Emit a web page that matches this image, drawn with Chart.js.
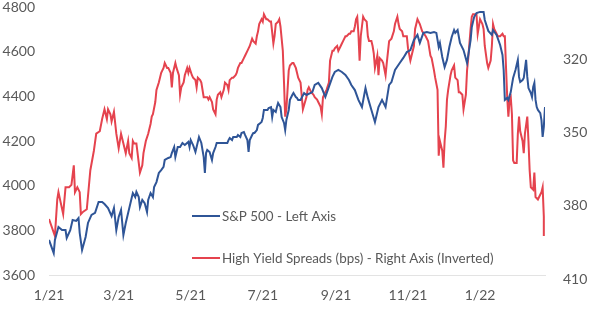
<!DOCTYPE html>
<html>
<head>
<meta charset="utf-8">
<script src="https://cdn.jsdelivr.net/npm/chart.js@4/dist/chart.umd.min.js"></script>
<style>
  html, body { margin: 0; padding: 0; background: #fff; }
  #wrap { width: 599px; height: 329px; }
</style>
</head>
<body>
<div id="wrap"><canvas id="spreadChart" width="599" height="329"></canvas></div>
<script>
// days counted from 1 Jan 2021
const spxDays = [
  0,4,5,8,11,14,15,18,20,23,
  25,26,28,31,33,36,39,42,45,47,
  50,53,55,57,59,61,63,65,67,69,
  70,71,73,74,76,77,79,81,83,84,
  86,88,89,91,93,95,97,98,101,103,
  104,106,107,109,111,113,115,118,119,120,
  122,124,125,127,129,131,132,133,134,136,
  138,139,141,142,145,148,151,152,153,155,
  156,159,160,162,163,165,166,168,169,170,
  172,173,174,176,177,179,180,181,182,184,
  185,186,188,189,190,192,193,194,196,197,
  199,200,201,203,204,206,207,209,210,211,
  213,216,218,223,225,228,231,234,237,240,
  242,245,248,251,254,256,259,262,265,268,
  270,273,275,276,279,282,285,288,290,293,
  297,300,303,306,309,312,314,317,320,323,
  326,328,330,331,333,335,337,339,341,343,
  344,346,348,351,354,357,358,360,362,365,
  368,369,372,375,376,379,382,384,385,386,
  388,389,391,392,393,395,397,398,399,401,
  402,404,405,406,408,409,410,411,412,413,
  414,416,417,418,419,420
];
const spxValues = [
  3757,3698,3757,3815,3801,3801,3766,3801,3846,3842,
  3855,3788,3712,3770,3833,3869,3878,3927,3927,3918,
  3900,3864,3900,3801,3860,3891,3779,3833,3878,3922,
  3945,3967,3949,3972,3949,3904,3936,3922,3882,3936,
  3967,3949,3994,4016,4057,4070,4084,4115,4124,4128,
  4146,4173,4128,4173,4173,4191,4182,4196,4173,4204,
  4182,4151,4173,4218,4191,4128,4057,4146,4160,4151,
  4115,4146,4173,4191,4191,4191,4191,4204,4213,4204,
  4218,4218,4227,4218,4236,4240,4227,4204,4151,4204,
  4227,4236,4236,4249,4272,4281,4285,4303,4339,4339,
  4339,4348,4352,4307,4339,4330,4352,4370,4352,4307,
  4281,4249,4294,4339,4384,4406,4415,4397,4393,4384,
  4384,4415,4406,4419,4451,4460,4437,4397,4442,4487,
  4509,4518,4509,4496,4473,4451,4428,4384,4352,4437,
  4393,4339,4303,4285,4352,4384,4352,4451,4464,4518,
  4549,4572,4598,4607,4652,4675,4639,4684,4688,4684,
  4688,4684,4621,4639,4576,4531,4563,4621,4666,4697,
  4684,4697,4639,4607,4549,4652,4710,4755,4773,4778,
  4778,4742,4693,4675,4697,4675,4630,4585,4518,4384,
  4393,4384,4419,4451,4482,4518,4563,4487,4464,4473,
  4482,4563,4487,4437,4415,4397,4442,4460,4384,4352,
  4339,4325,4294,4218,4263,4352
];

const hyDays = [
  0,5,7,8,12,14,17,19,21,22,
  24,26,27,29,32,35,38,40,43,45,
  47,49,50,52,53,55,57,59,61,63,
  65,67,68,70,71,72,74,76,77,79,
  80,82,84,86,87,88,90,91,93,95,
  97,98,100,101,103,104,105,107,108,110,
  111,112,114,115,117,118,119,121,122,124,
  125,126,128,129,131,132,134,135,136,138,
  139,141,142,143,145,146,148,149,151,152,
  153,155,156,158,159,160,162,163,165,166,
  168,169,170,172,173,175,176,177,178,180,
  181,182,184,185,187,188,190,191,192,194,
  195,196,198,199,200,201,203,204,206,207,
  209,210,211,213,215,218,219,220,222,224,
  225,227,228,230,231,232,234,235,237,238,
  240,241,242,244,245,247,248,249,251,252,
  254,255,256,258,259,260,261,262,263,264,
  266,267,269,270,271,273,274,275,276,278,
  279,280,282,283,285,286,288,290,292,293,
  295,296,297,299,300,302,303,304,306,307,
  309,310,312,314,316,319,321,323,324,326,
  327,329,330,331,333,334,335,336,337,338,
  340,341,343,344,346,347,348,350,351,353,
  354,355,357,358,359,360,362,363,364,365,
  367,368,369,371,372,374,375,376,377,379,
  380,381,382,384,385,386,387,388,389,390,
  391,392,393,394,396,397,398,399,401,402,
  403,405,406,407,408,410,411,412,414,415,
  417,418,419,419
];
const hyValues = [
  387,394,379,376,385,374,374,373,365,376,
  374,376,385,384,383,367,359,352,351,346,
  342,346,342,344,347,343,352,358,352,356,
  360,355,360,362,355,356,356,364,368,365,
  360,355,352,348,345,344,339,334,331,327,
  325,323,325,325,327,333,327,323,325,328,
  336,333,331,328,325,327,325,328,329,330,
  333,329,330,331,337,337,337,338,337,339,
  342,344,338,336,335,337,334,331,332,334,
  330,329,329,328,327,325,323,323,321,320,
  318,317,316,313,314,315,312,310,307,305,
  306,303,305,305,306,306,315,312,307,306,
  305,308,318,331,345,342,326,324,323,323,
  325,327,329,331,342,337,334,333,335,336,
  337,338,339,341,344,337,335,334,331,322,
  318,318,317,316,318,316,315,314,312,312,
  311,311,310,310,308,305,304,311,322,312,
  304,305,306,312,314,314,316,319,325,320,
  328,321,322,323,328,323,314,313,310,307,
  304,307,309,310,312,312,312,317,322,320,
  316,309,305,307,310,312,314,320,321,326,
  329,334,361,355,359,366,355,349,338,334,
  328,326,324,329,330,335,335,336,342,336,
  326,321,309,304,303,303,303,311,308,305,
  307,309,316,323,325,322,316,307,309,311,
  312,312,312,311,312,312,325,337,345,338,
  337,344,363,364,364,352,345,351,355,360,
  352,345,355,367,374,375,368,378,379,378,
  376,374,386,394
];

const tickDays = [0, 59, 120, 181, 243, 304, 365];
const tickLabels = ['1/21', '3/21', '5/21', '7/21', '9/21', '11/21', '1/22'];
const leftTicks = [3600, 3800, 4000, 4200, 4400, 4600, 4800];
const rightTicks = [320, 350, 380, 410];

const seriesNames = ['S&P 500 - Left Axis', 'High Yield Spreads (bps) - Right Axis (Inverted)'];

const textColor = '#595959';
const font = { family: 'Lato', size: 14 };

function toPoints(xs, ys) {
  return xs.map((x, i) => ({ x: x, y: ys[i] }));
}

// legend sits inside the plot, lower middle
const innerLegend = {
  id: 'innerLegend',
  afterDraw(chart) {
    const ctx = chart.ctx;
    const area = chart.chartArea;
    const rows = [area.top + 209, area.top + 251];
    ctx.save();
    ctx.font = '13.4px Lato';
    ctx.textBaseline = 'middle';
    chart.data.datasets.forEach((ds, i) => {
      const y = rows[i];
      const x0 = area.left + 143;
      ctx.strokeStyle = ds.borderColor;
      ctx.lineWidth = 2;
      ctx.beginPath();
      ctx.moveTo(x0, y);
      ctx.lineTo(x0 + 28, y);
      ctx.stroke();
      ctx.fillStyle = textColor;
      ctx.fillText(ds.label, x0 + 30, y + 1);
    });
    ctx.restore();
  }
};

const ctx = document.getElementById('spreadChart').getContext('2d');
new Chart(ctx, {
  type: 'line',
  data: {
    datasets: [{
      label: seriesNames[0],
      data: toPoints(spxDays, spxValues),
      borderColor: '#2f5597',
      borderWidth: 2,
      pointRadius: 0,
      tension: 0,
      yAxisID: 'y'
    }, {
      label: seriesNames[1],
      data: toPoints(hyDays, hyValues),
      borderColor: '#e5434e',
      borderWidth: 2,
      pointRadius: 0,
      tension: 0,
      yAxisID: 'y1'
    }]
  },
  options: {
    responsive: false,
    animation: false,
    layout: { padding: { top: 7, left: 0, right: 0, bottom: 0 } },
    plugins: { legend: { display: false }, tooltip: { enabled: false } },
    scales: {
      x: {
        type: 'linear',
        min: 0,
        max: 420,
        grid: { display: false, drawTicks: false },
        border: { display: true, color: '#e3e3e3', width: 1 },
        afterBuildTicks: s => { s.ticks = tickDays.map(v => ({ value: v })); },
        afterFit: s => { s.height = 54; s.paddingLeft = 0; s.paddingRight = 0; },
        ticks: {
          autoSkip: false,
          maxRotation: 0,
          padding: 12,
          color: textColor,
          font: font,
          callback: (v, i) => tickLabels[i]
        }
      },
      y: {
        position: 'left',
        min: 3600,
        max: 4800,
        grid: { display: false, drawTicks: false },
        border: { display: false },
        afterBuildTicks: s => { s.ticks = leftTicks.map(v => ({ value: v })); },
        afterFit: s => { s.width = 49; s.paddingTop = 0; s.paddingBottom = 0; },
        ticks: { padding: 14, color: textColor, font: font, callback: v => String(v) }
      },
      y1: {
        position: 'right',
        min: 300,
        max: 410,
        reverse: true,
        grid: { display: false, drawTicks: false },
        border: { display: false },
        afterBuildTicks: s => { s.ticks = rightTicks.map(v => ({ value: v })); },
        afterFit: s => { s.width = 54; s.paddingTop = 0; s.paddingBottom = 0; },
        ticks: { padding: 18, labelOffset: 4, color: textColor, font: font, callback: v => String(v) }
      }
    }
  },
  plugins: [innerLegend]
});
</script>
</body>
</html>
